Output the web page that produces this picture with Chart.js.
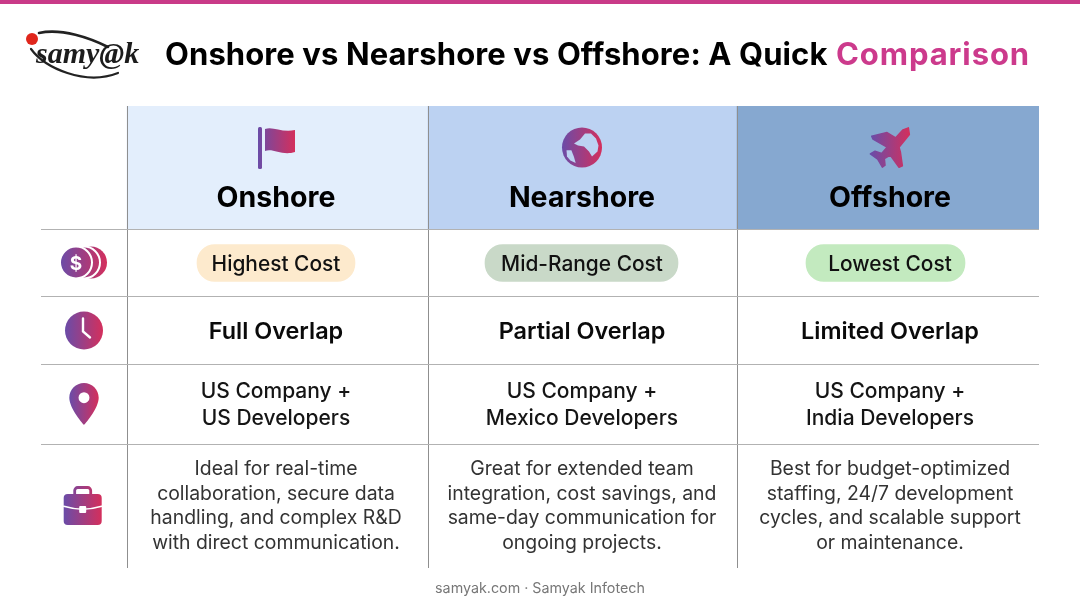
<!DOCTYPE html>
<html>
<head>
<meta charset="utf-8">
<title>Onshore vs Nearshore vs Offshore</title>
<script src="https://cdn.jsdelivr.net/npm/chart.js@4"></script>
<style>
  body { margin: 0; background: #fff; }
  canvas { display: block; }
</style>
</head>
<body>
<canvas id="myChart" width="1080" height="603"></canvas>
<script>
// Table content
const titleBlack = 'Onshore vs Nearshore vs Offshore: A Quick';
const titlePink = 'Comparison';
const models = ['Onshore', 'Nearshore', 'Offshore'];
const costs = ['Highest Cost', 'Mid-Range Cost', 'Lowest Cost'];
const overlaps = ['Full Overlap', 'Partial Overlap', 'Limited Overlap'];
const teams = [
  ['US Company +', 'US Developers'],
  ['US Company +', 'Mexico Developers'],
  ['US Company +', 'India Developers']
];
const bestFor = [
  ['Ideal for real-time', 'collaboration, secure data', 'handling, and complex R&D', 'with direct communication.'],
  ['Great for extended team', 'integration, cost savings, and', 'same-day communication for', 'ongoing projects.'],
  ['Best for budget-optimized', 'staffing, 24/7 development', 'cycles, and scalable support', 'or maintenance.']
];
const footer = 'samyak.com \u00b7 Samyak Infotech';

// Where the table breaks on its two axes
const colEdges = [127, 428, 737, 1039];
const rowEdges = [229.5, 296.5, 364, 444];
const colCentres = [276, 582, 890];
const pillSpans = [[197, 355], [485, 678], [806, 965]];

const FONT = 'Inter, "Open Sans", sans-serif';
const colHeader = ['#e3eefc', '#bcd2f2', '#86a8d0'];
const colPill = ['#fdeacd', '#c9d9c8', '#c3eabf'];

function gradient(ctx, x0, x1) {
  const g = ctx.createLinearGradient(x0, 0, x1, 0);
  g.addColorStop(0, '#6a4ca8');
  g.addColorStop(1, '#d42f5c');
  return g;
}

function line(ctx, text, cx, y, font, color, spacing) {
  ctx.font = font;
  ctx.fillStyle = color;
  ctx.textAlign = 'center';
  ctx.textBaseline = 'alphabetic';
  ctx.letterSpacing = (spacing || 0) + 'px';
  ctx.fillText(text, cx, y);
  ctx.letterSpacing = '0px';
}

function poly(ctx, cx, cy, pts) {
  ctx.beginPath();
  pts.forEach((p, i) => {
    if (i === 0) ctx.moveTo(cx + p[0], cy + p[1]);
    else ctx.lineTo(cx + p[0], cy + p[1]);
  });
  ctx.closePath();
}

function drawLogo(ctx) {
  ctx.save();
  ctx.strokeStyle = '#222';
  ctx.lineCap = 'round';
  ctx.lineWidth = 2.6;
  ctx.beginPath();
  ctx.moveTo(39, 33);
  ctx.bezierCurveTo(62, 28, 90, 38, 108, 47);
  ctx.stroke();
  ctx.lineWidth = 2.2;
  ctx.beginPath();
  ctx.moveTo(31, 49);
  ctx.bezierCurveTo(45, 68, 85, 86, 118, 73);
  ctx.stroke();
  ctx.font = 'italic bold 30px "Liberation Serif"';
  ctx.fillStyle = '#1c1c1c';
  ctx.textAlign = 'left';
  ctx.fillText('samy@k', 36, 63);
  ctx.fillStyle = '#e0261c';
  ctx.beginPath();
  ctx.arc(32, 39, 6, 0, Math.PI * 2);
  ctx.fill();
  ctx.restore();
}

function drawFlag(ctx, cx, cy) {
  ctx.fillStyle = gradient(ctx, cx - 18, cx + 19);
  ctx.beginPath();
  ctx.roundRect(cx - 18, cy - 21, 4, 42, 1.5);
  ctx.fill();
  ctx.beginPath();
  ctx.moveTo(cx - 11, cy - 19);
  ctx.bezierCurveTo(cx - 3, cy - 22, cx + 6, cy - 15, cx + 19, cy - 18);
  ctx.lineTo(cx + 19, cy + 4);
  ctx.bezierCurveTo(cx + 6, cy + 8, cx - 3, cy + 0, cx - 11, cy + 3);
  ctx.closePath();
  ctx.fill();
}

function drawGlobe(ctx, cx, cy, bg) {
  ctx.fillStyle = gradient(ctx, cx - 20, cx + 20);
  ctx.beginPath();
  ctx.arc(cx, cy, 20, 0, Math.PI * 2);
  ctx.fill();
  ctx.fillStyle = bg;
  poly(ctx, cx, cy, [[-8, -4], [-2, -8], [3, -14], [9, -14], [14, -9], [16.5, -2], [15.5, 4], [10, 9], [7, 4], [2, -1], [-4, -2]]);
  ctx.fill();
  poly(ctx, cx, cy, [[-15.5, 2.7], [-10.6, 2.7], [-8, 9.4], [-6.3, 15.5], [-11.6, 13], [-15, 9]]);
  ctx.fill();
}

function drawPlane(ctx, cx, cy) {
  const pts = [[152, 38], [136, 44], [114, 68], [88, 52], [42, 63], [46, 72], [88, 96], [72, 115], [52, 108], [38, 116], [60, 132], [74, 156], [82, 150], [80, 130], [98, 120], [124, 156], [134, 152], [128, 110], [124, 96], [155, 58]];
  ctx.save();
  ctx.fillStyle = gradient(ctx, cx - 19, cx + 20);
  ctx.strokeStyle = ctx.fillStyle;
  ctx.lineJoin = 'round';
  ctx.lineWidth = 1.5;
  poly(ctx, cx - 32.3, cy - 32.3, pts.map(p => [p[0] / 3, p[1] / 3]));
  ctx.fill();
  ctx.stroke();
  ctx.restore();
}

function drawCoins(ctx, cx, cy) {
  const fill = gradient(ctx, cx - 24, cx + 23);
  ctx.strokeStyle = '#fff';
  ctx.lineWidth = 2;
  [7, 0, -8].forEach(dx => {
    ctx.fillStyle = fill;
    ctx.beginPath();
    ctx.arc(cx + dx, cy, 16, 0, Math.PI * 2);
    ctx.fill();
    if (dx !== 7) ctx.stroke();
  });
  ctx.fillStyle = '#fff';
  ctx.font = 'bold 19px ' + FONT;
  ctx.textAlign = 'center';
  ctx.fillText('$', cx - 8, cy + 7);
}

function drawClock(ctx, cx, cy) {
  ctx.fillStyle = gradient(ctx, cx - 19, cx + 19);
  ctx.beginPath();
  ctx.arc(cx, cy, 19, 0, Math.PI * 2);
  ctx.fill();
  ctx.strokeStyle = '#fff';
  ctx.lineWidth = 2.4;
  ctx.lineCap = 'round';
  ctx.beginPath();
  ctx.moveTo(cx - 1, cy - 12);
  ctx.lineTo(cx - 1, cy + 1);
  ctx.lineTo(cx + 6, cy + 7);
  ctx.stroke();
}

function drawPin(ctx, cx, cy) {
  ctx.save();
  ctx.translate(cx, cy);
  ctx.scale(2.1, 2.1);
  ctx.translate(-12, -12);
  const g = ctx.createLinearGradient(5, 0, 19, 0);
  g.addColorStop(0, '#6a4ca8');
  g.addColorStop(1, '#d42f5c');
  ctx.fillStyle = g;
  ctx.fill(new Path2D('M12 2C8.13 2 5 5.13 5 9c0 5.25 7 13 7 13s7-7.75 7-13c0-3.87-3.13-7-7-7zm0 9.6a2.6 2.6 0 0 1 0-5.2 2.6 2.6 0 0 1 0 5.2z'), 'evenodd');
  ctx.restore();
}

function drawCase(ctx, cx, cy) {
  const fill = gradient(ctx, cx - 19, cx + 19);
  ctx.strokeStyle = fill;
  ctx.lineWidth = 2.8;
  ctx.beginPath();
  ctx.roundRect(cx - 8, cy - 19.5, 16, 10, 3);
  ctx.stroke();
  ctx.fillStyle = fill;
  ctx.beginPath();
  ctx.roundRect(cx - 19, cy - 13, 38, 31, 4);
  ctx.fill();
  ctx.strokeStyle = '#fff';
  ctx.lineWidth = 1.5;
  ctx.beginPath();
  ctx.moveTo(cx - 19, cy - 0.7);
  ctx.quadraticCurveTo(cx, cy + 5, cx + 19, cy - 0.7);
  ctx.stroke();
  ctx.fillStyle = '#fff';
  ctx.beginPath();
  ctx.roundRect(cx - 3.5, cy - 1, 7, 7, 1);
  ctx.fill();
}

// Everything that is not a bar or a grid line: title, labels and icons
const tableText = {
  id: 'tableText',
  afterDraw(chart) {
    const ctx = chart.ctx;
    const xs = chart.scales.x;
    const ys = chart.scales.y;
    const px = v => xs.getPixelForValue(v);
    const py = v => ys.getPixelForValue(v);

    ctx.save();
    ctx.fillStyle = '#c93a88';
    ctx.fillRect(0, 0, 1080, 4);

    drawLogo(ctx);

    ctx.textAlign = 'left';
    ctx.textBaseline = 'alphabetic';
    ctx.font = '700 31px ' + FONT;
    ctx.fillStyle = '#000';
    ctx.letterSpacing = '0.1px';
    ctx.fillText(titleBlack, 165, 65);
    ctx.fillStyle = '#cc3a8c';
    ctx.letterSpacing = '0.9px';
    ctx.fillText(titlePink, 836, 65);
    ctx.letterSpacing = '0px';

    models.forEach((m, i) => {
      const c = px(colCentres[i]);
      line(ctx, m, c, py(207), '700 28.5px ' + FONT, '#000');
      line(ctx, costs[i], c, py(271), '500 20.9px ' + FONT, '#111');
      line(ctx, overlaps[i], c, py(339), '600 23.4px ' + FONT, '#0a0a0a');
      teams[i].forEach((t, j) => {
        line(ctx, t, c, py(398 + j * 27), '500 21px ' + FONT, '#151515');
      });
      bestFor[i].forEach((t, j) => {
        line(ctx, t, c, py(475 + j * 24.7), '400 19.4px ' + FONT, '#333');
      });
    });

    line(ctx, footer, 540, 593, '400 14.3px ' + FONT, '#777');

    drawFlag(ctx, px(276), py(148));
    drawGlobe(ctx, px(582), py(147.5), colHeader[1]);
    drawPlane(ctx, px(890), py(147.5));
    drawCoins(ctx, px(84), py(262.5));
    drawClock(ctx, px(84), py(330.5));
    drawPin(ctx, px(84), py(404));
    drawCase(ctx, px(82.7), py(507));
    ctx.restore();
  }
};

new Chart('myChart', {
  type: 'bar',
  data: {
    datasets: [
      {
        label: 'Models',
        grouped: false,
        data: models.map((m, i) => ({ x: [colEdges[i], colEdges[i + 1]], y: 167.75 })),
        backgroundColor: colHeader,
        barThickness: 123.5
      },
      {
        label: 'Cost',
        grouped: false,
        data: costs.map((c, i) => ({ x: pillSpans[i], y: 263 })),
        backgroundColor: colPill,
        barThickness: 37,
        borderRadius: 18,
        borderSkipped: false
      }
    ]
  },
  plugins: [tableText],
  options: {
    indexAxis: 'y',
    responsive: false,
    animation: false,
    devicePixelRatio: 1,
    layout: { padding: { left: 41, right: 41, top: 106, bottom: 35 } },
    plugins: { legend: { display: false }, tooltip: { enabled: false } },
    scales: {
      x: {
        type: 'linear',
        min: 41,
        max: 1039,
        afterBuildTicks: s => { s.ticks = colEdges.slice(0, 3).map(v => ({ value: v })); },
        ticks: { display: false, autoSkip: false },
        border: { display: false },
        grid: { color: '#8f8f8f', drawTicks: false, offset: false, z: 1 }
      },
      y: {
        type: 'linear',
        min: 106,
        max: 568,
        reverse: true,
        offset: false,
        afterBuildTicks: s => { s.ticks = rowEdges.map(v => ({ value: v })); },
        ticks: { display: false, autoSkip: false },
        border: { display: false },
        grid: { color: '#b2b2b2', drawTicks: false, offset: false, z: 1 }
      }
    }
  }
});
</script>
</body>
</html>
